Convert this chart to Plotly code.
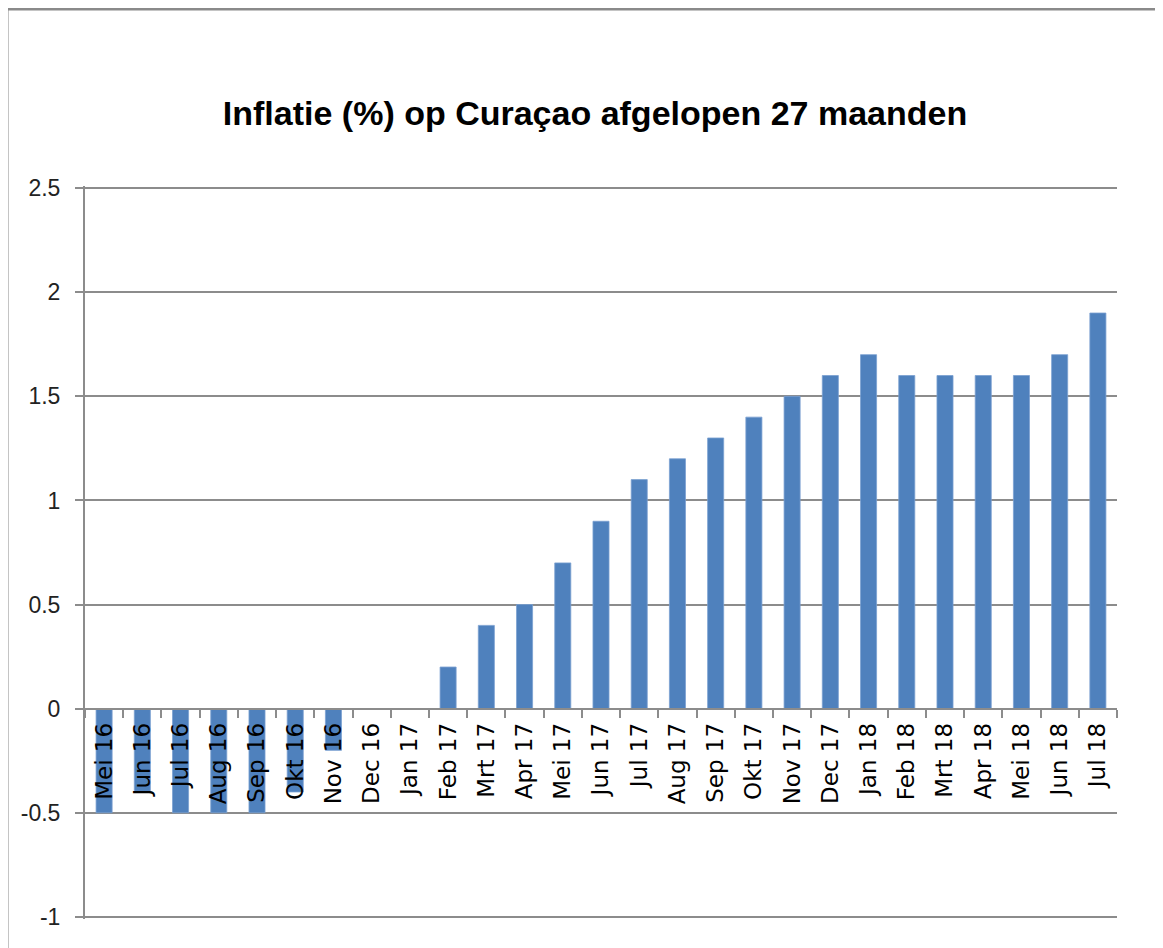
import plotly.graph_objects as go

months = ["Mei 16", "Jun 16", "Jul 16", "Aug 16", "Sep 16", "Okt 16", "Nov 16",
          "Dec 16", "Jan 17", "Feb 17", "Mrt 17", "Apr 17", "Mei 17", "Jun 17",
          "Jul 17", "Aug 17", "Sep 17", "Okt 17", "Nov 17", "Dec 17", "Jan 18",
          "Feb 18", "Mrt 18", "Apr 18", "Mei 18", "Jun 18", "Jul 18"]
inflation = [-0.5, -0.4, -0.5, -0.5, -0.5, -0.4, -0.2,
             0.0, 0.0, 0.2, 0.4, 0.5, 0.7, 0.9,
             1.1, 1.2, 1.3, 1.4, 1.5, 1.6, 1.7,
             1.6, 1.6, 1.6, 1.6, 1.7, 1.9]
y_ticks = [-1, -0.5, 0, 0.5, 1, 1.5, 2, 2.5]
y_labels = ["-1", "-0.5", "0", "0.5", "1", "1.5", "2", "2.5"]
y_range = [-1.01, 2.51]

OFF = 8  # page body margin
W, H = 1163 - OFF, 948 - OFF
L = 85 - OFF
R = 1163 - 1117
T = 188 - 2 - OFF
B = 948 - 917 - 2
pw, ph = W - L - R, H - T - B

grid = "#8c8c8c"

fig = go.Figure(go.Bar(
    x=months, y=inflation,
    marker=dict(color="#4F81BD", line=dict(color="#7a9fd0", width=0.8)),
))

zero_pos = (0 - y_range[0]) / (y_range[1] - y_range[0])

fig.update_layout(
    width=W, height=H,
    margin=dict(l=L, r=R, t=T, b=B),
    paper_bgcolor="white", plot_bgcolor="white",
    bargap=0.58,
    showlegend=False,
    title=dict(text="<b>Inflatie (%) op Curaçao afgelopen 27 maanden</b>",
               x=(595 - OFF) / W, xanchor="center", xref="container",
               y=1 - (113 - OFF) / H, yanchor="middle",
               font=dict(family="Liberation Sans, sans-serif", size=34, color="black")),
    xaxis=dict(
        type="category",
        range=[-0.5, len(months) - 0.5],
        anchor="free", position=zero_pos,
        showline=True, linecolor=grid, linewidth=2,
        ticks="outside", tickson="boundaries", ticklen=8, tickcolor=grid, tickwidth=2,
        tickangle=-90,
        tickfont=dict(family="DejaVu Sans", size=23, color="black"),
        ticklabelstandoff=4,
        showgrid=False, zeroline=False,
    ),
    yaxis=dict(
        range=y_range,
        tickvals=y_ticks, ticktext=y_labels,
        showline=True, linecolor=grid, linewidth=2,
        ticks="outside", ticklen=8, tickcolor=grid, tickwidth=2,
        showgrid=True, gridcolor=grid, gridwidth=2,
        zeroline=False,
        tickfont=dict(family="Liberation Sans, sans-serif", size=23, color="#222"),
        ticklabelstandoff=10,
    ),
)

# outer chart-area border (extends past right and bottom edges of the image)
fig.add_shape(type="rect", xref="paper", yref="paper",
              x0=(7 - OFF - L) / pw,
              x1=(W + 20 - L) / pw,
              y0=-(B + 20) / ph, y1=(H - B - (9 - OFF)) / ph,
              line=dict(color="#8a8a8a", width=3), fillcolor="rgba(0,0,0,0)", layer="below")

fig.write_html("out.html")
